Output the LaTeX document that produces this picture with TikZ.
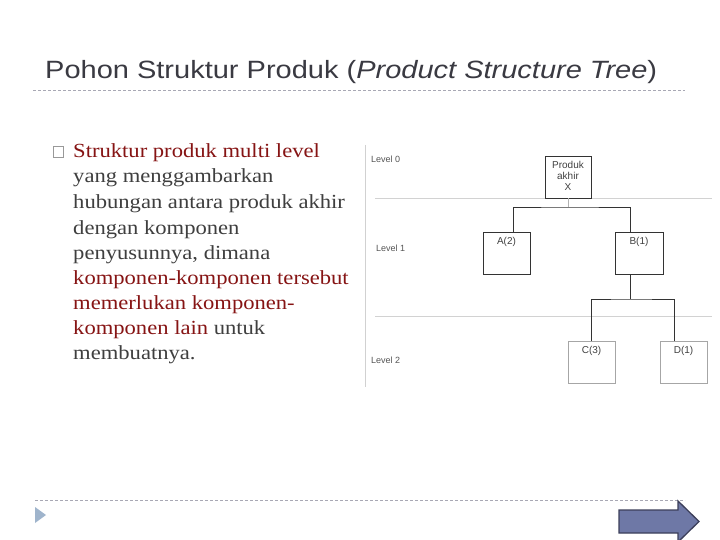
\documentclass[tikz,border=0pt]{standalone}
\usepackage{fontspec}
\setmainfont{Liberation Serif}
\newfontfamily\sansfnt{Liberation Sans}
\definecolor{titlegray}{HTML}{3A3A42}
\definecolor{bodygray}{HTML}{3F3F3F}
\definecolor{bodyred}{HTML}{861414}
\definecolor{dashgray}{HTML}{A8A8B4}
\definecolor{treegray}{HTML}{555555}
\definecolor{lvlline}{HTML}{D2D2D2}
\definecolor{arrowfill}{HTML}{6E78A6}
\definecolor{arrowdraw}{HTML}{3C3F5A}
\definecolor{trifill}{HTML}{9FB4CC}
\newcommand{\wtxt}[1]{\scalebox{1.13}[1]{#1}}
\tikzset{
  dashline/.style={draw=dashgray, line width=0.8pt, dash pattern=on 3pt off 2pt},
  bodyline/.style={anchor=base west, inner sep=0pt, font=\fontsize{20}{25}\selectfont, text=bodygray},
  lvl/.style={anchor=west, inner sep=0pt, font=\sansfnt\fontsize{9}{10}\selectfont, text=treegray},
  darkbox/.style={draw=black!80, line width=0.8pt, minimum width=#1, minimum height=42pt, inner sep=0pt},
  lightbox/.style={draw=black!35, line width=0.8pt, minimum width=#1, minimum height=42pt, inner sep=0pt},
  boxlbl/.style={anchor=north, inner sep=0pt, align=center, font=\sansfnt\fontsize{10}{11}\selectfont, text=black!75},
  conn/.style={draw=black!80, line width=0.9pt},
}
\begin{document}
\begin{tikzpicture}[x=1pt,y=-1pt]
\useasboundingbox (0,0) rectangle (720,540);
\fill[white] (0,0) rectangle (720,540);

% title
\node[anchor=base west, inner sep=0pt, font=\sansfnt\fontsize{25}{29}\selectfont, text=titlegray] (title) at (45,79)
  {\scalebox{1.16}[1]{Pohon Struktur Produk (\textit{Product Structure Tree})}};
\coordinate (d1a) at (33,90);
\coordinate (d1b) at (685,90);
\draw[dashline] (d1a) -- (d1b);

% bullet
\node[draw=black!40, line width=0.6pt, minimum size=10.5pt, inner sep=0pt] (bullet) at (58.5,152) {};

% body text
\node[bodyline, text=bodyred] (l1) at (73,158) {\wtxt{Struktur produk multi level}};
\node[bodyline] (l2) at (73,183) {\wtxt{yang menggambarkan}};
\node[bodyline] (l3) at (73,209) {\wtxt{hubungan antara produk akhir}};
\node[bodyline] (l4) at (73,234) {\wtxt{dengan komponen}};
\node[bodyline] (l5) at (73,259) {\wtxt{penyusunnya, dimana}};
\node[bodyline, text=bodyred] (l6) at (73,284) {\wtxt{komponen-komponen tersebut}};
\node[bodyline, text=bodyred] (l7) at (73,309) {\wtxt{memerlukan komponen-}};
\node[bodyline] (l8) at (73,334) {\wtxt{\textcolor{bodyred}{komponen lain} untuk}};
\node[bodyline] (l9) at (73,359) {\wtxt{membuatnya.}};

% tree picture frame and level lines
\coordinate (f1) at (365,145);
\coordinate (f2) at (365,387);
\draw[draw=black!18, line width=0.8pt] (f1) -- (f2);
\coordinate (lv1a) at (375,198);
\coordinate (lv1b) at (712,198);
\coordinate (lv2a) at (375,316);
\coordinate (lv2b) at (712,316);
\draw[lvlline, line width=0.9pt] (lv1a) -- (lv1b);
\draw[lvlline, line width=0.9pt] (lv2a) -- (lv2b);

\node[lvl] (lv0) at (371,159) {Level 0};
\node[lvl] (lvl1) at (376,248) {Level 1};
\node[lvl] (lvl2) at (371,360) {Level 2};

% boxes
\node[darkbox=46pt] (X) at (568,177) {};
\node[darkbox=47pt] (A) at (506.5,253) {};
\node[darkbox=48pt] (B) at (639,253) {};
\node[lightbox=47pt] (C) at (591.5,362) {};
\node[lightbox=47pt] (D) at (683.5,362) {};

\node[boxlbl] (Xl) at (568,161.5) {Produk\\akhir\\X};
\node[boxlbl] (Al) at (506.5,237) {A(2)};
\node[boxlbl] (Bl) at (639,237) {B(1)};
\node[boxlbl] (Cl) at (591.5,346) {C(3)};
\node[boxlbl] (Dl) at (683.5,346) {D(1)};

% connectors
\coordinate (xj) at (568,207);
\coordinate (aT) at (513,232);
\coordinate (bT) at (630,232);
\draw[draw=black!30, line width=0.6pt] (X.south) -- (xj);
\draw[conn] (aT) |- (xj) -| (bT);
\coordinate (bB) at (630,274);
\coordinate (bj) at (630,299);
\coordinate (cT) at (591,341);
\coordinate (dT) at (674,341);
\draw[conn] (bB) -- (bj);
\draw[conn] (cT) |- (bj) -| (dT);

% bottom
\coordinate (d2a) at (35,500);
\coordinate (d2b) at (685,500);
\draw[dashline] (d2a) -- (d2b);
\fill[trifill] (35,507) -- (46,515) -- (35,523) -- cycle;
\draw[fill=arrowfill, draw=arrowdraw, line width=1.3pt, line join=miter]
  (619,510) -- (678,510) -- (678,501) -- (699,521.5) -- (678,542) -- (678,533) -- (619,533) -- cycle;
\end{tikzpicture}
\end{document}
